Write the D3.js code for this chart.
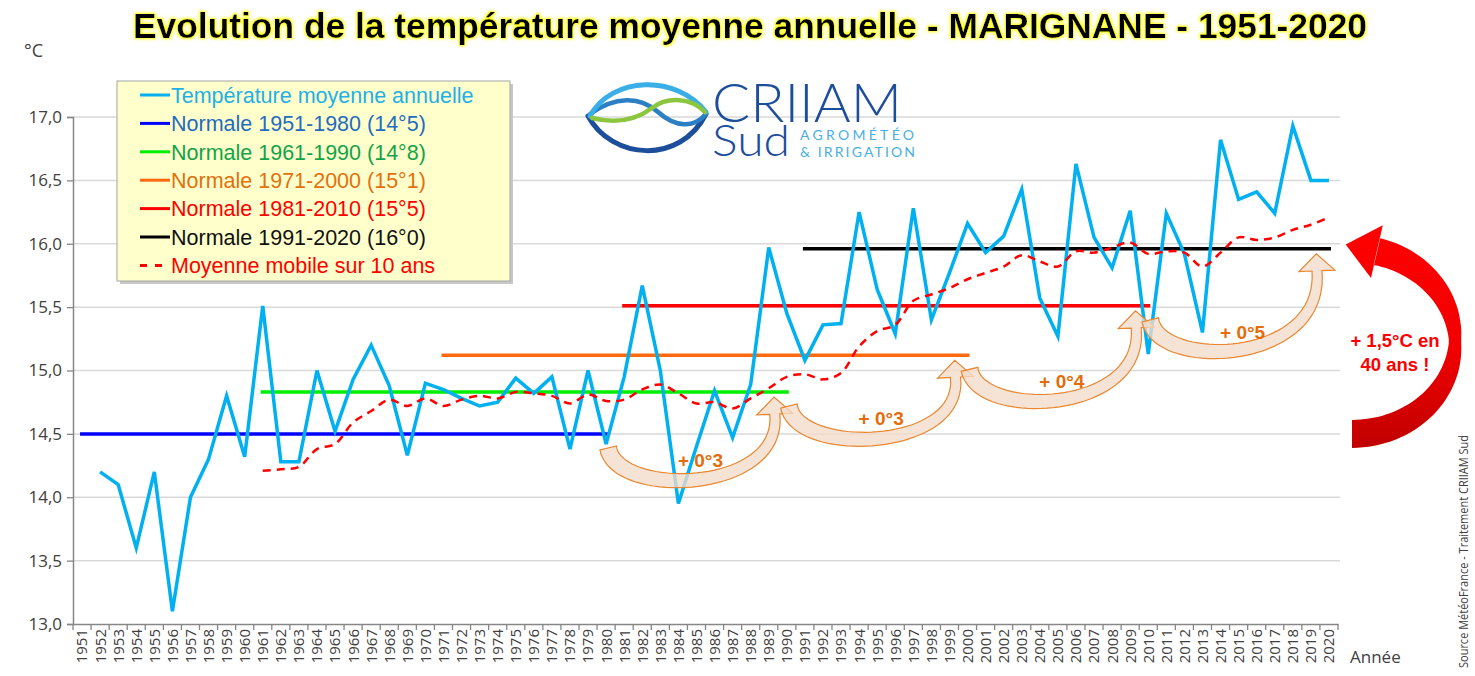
<!DOCTYPE html>
<html lang="fr">
<head>
<meta charset="UTF-8">
<title>Evolution de la température moyenne annuelle - MARIGNANE</title>
<script src="https://d3js.org/d3.v7.min.js"></script>
<style>
    body { margin: 0; background: #ffffff; }
    svg { display: block; }
    text { font-family: "Liberation Sans", Arial, sans-serif; }
</style>
</head>
<body>
<div id="chart"></div>
<script>

    // ---- data ----
    var years = d3.range(1951, 2021);

    // annual mean temperature (1951 missing)
    var temps = [null, 14.20, 14.10, 13.60, 14.20, 13.10, 14.00, 14.30, 14.80, 14.32,
        15.51, 14.28, 14.28, 15.00, 14.52, 14.93, 15.20, 14.88, 14.33, 14.90,
        14.85, 14.78, 14.72, 14.75, 14.94, 14.82, 14.95, 14.38, 15.00, 14.42,
        14.95, 15.67, 15.00, 13.95, 14.40, 14.84, 14.47, 14.89, 15.97, 15.45,
        15.08, 15.36, 15.37, 16.25, 15.64, 15.29, 16.28, 15.40, 15.77, 16.16,
        15.93, 16.06, 16.43, 15.57, 15.27, 16.63, 16.05, 15.81, 16.26, 15.13,
        16.24, 15.92, 15.30, 16.82, 16.35, 16.41, 16.24, 16.93, 16.50, 16.50];

    // 10 year moving average (starts 1961)
    var movingAvg = [null, null, null, null, null, null, null, null, null, null,
        14.21, 14.22, 14.24, 14.38, 14.42, 14.59, 14.68, 14.77, 14.72, 14.78,
        14.72, 14.77, 14.80, 14.78, 14.83, 14.82, 14.80, 14.74, 14.81, 14.76,
        14.77, 14.85, 14.89, 14.82, 14.74, 14.75, 14.70, 14.78, 14.86, 14.95,
        14.97, 14.93, 14.98, 15.19, 15.31, 15.36, 15.55, 15.60, 15.65, 15.72,
        15.77, 15.82, 15.91, 15.86, 15.82, 15.94, 15.93, 15.97, 16.01, 15.92,
        15.94, 15.93, 15.82, 15.93, 16.05, 16.03, 16.05, 16.11, 16.15, 16.21];

    // climate normals
    var normalNames = ["Normale 1951-1980 (14°5)", "Normale 1961-1990 (14°8)", "Normale 1971-2000 (15°1)",
        "Normale 1981-2010 (15°5)", "Normale 1991-2020 (16°0)"];
    var normalStart = [1951, 1961, 1971, 1981, 1991];
    var normalEnd = [1980, 1990, 2000, 2010, 2020];
    var normalValues = [14.50, 14.83, 15.12, 15.51, 15.96];

    // increase between consecutive normals
    var gapLabels = ["+ 0°3", "+ 0°3", "+ 0°4", "+ 0°5"];

    var yTicks = [13.0, 13.5, 14.0, 14.5, 15.0, 15.5, 16.0, 16.5, 17.0];

    // ---- styles ----
    var normalColors = ["#0000ff", "#00ee00", "#ff6a10", "#ff0000", "#000000"];
    var normalTextColors = ["#1f6cc0", "#13a34a", "#e4700e", "#ff0000", "#111111"];
    var tempColor = "#00b0f0";
    var arrowStroke = "#e9862f";
    var labelOrange = "#e46c0a";

    var width = 1475, height = 676;
    var plot = { left: 73, right: 1338, top: 117, bottom: 624 };

    var svg = d3.select("#chart")
        .append("svg")
        .attr("width", width)
        .attr("height", height);

    var defs = svg.append("defs");

    // yellow glow behind the title
    var glow = defs.append("filter").attr("id", "glow")
        .attr("x", "-5%").attr("y", "-40%").attr("width", "110%").attr("height", "180%");
    glow.append("feMorphology").attr("in", "SourceAlpha").attr("operator", "dilate").attr("radius", 1).attr("result", "d");
    glow.append("feGaussianBlur").attr("in", "d").attr("stdDeviation", 1.8).attr("result", "b");
    glow.append("feFlood").attr("flood-color", "#ffff00");
    glow.append("feComposite").attr("in2", "b").attr("operator", "in").attr("result", "g");
    var merge = glow.append("feMerge");
    merge.append("feMergeNode").attr("in", "g");
    merge.append("feMergeNode").attr("in", "SourceGraphic");

    // red gradient of the big arrow
    var grad = defs.append("linearGradient").attr("id", "redGrad")
        .attr("x1", 0).attr("y1", 0).attr("x2", 0).attr("y2", 1);
    grad.append("stop").attr("offset", "0%").attr("stop-color", "#ff0000");
    grad.append("stop").attr("offset", "55%").attr("stop-color", "#f20000");
    grad.append("stop").attr("offset", "100%").attr("stop-color", "#c00000");

    // ---- scales ----
    var x = d3.scaleBand()
        .domain(years)
        .range([plot.left, plot.right])
        .padding(0);
    function xc(yr) { return x(yr) + x.bandwidth() / 2; }

    var y = d3.scaleLinear()
        .domain([13, 17])
        .range([plot.bottom, plot.top]);

    var fmt = function (d) { return d3.format(".1f")(d).replace(".", ","); };

    // ---- gridlines ----
    svg.append("g")
        .selectAll("line")
        .data(yTicks.slice(1))
        .enter()
        .append("line")
        .attr("x1", plot.left).attr("x2", plot.right + 2)
        .attr("y1", function (d) { return y(d); })
        .attr("y2", function (d) { return y(d); })
        .attr("stroke", "#d9d9d9")
        .attr("stroke-width", 1.5);

    // ---- y axis ----
    var yAxis = svg.append("g")
        .attr("transform", "translate(" + plot.left + ",0)")
        .call(d3.axisLeft(y).tickValues(yTicks).tickSize(6).tickPadding(5).tickFormat(fmt));
    yAxis.select(".domain").attr("stroke", "#868686").attr("stroke-width", 1.5);
    yAxis.selectAll(".tick line").attr("stroke", "#868686").attr("stroke-width", 1.3);
    yAxis.selectAll("text")
        .style("font-family", "'Open Sans', sans-serif")
        .style("font-size", "17px")
        .attr("fill", "#404040");

    // ---- x axis ----
    var xAxis = svg.append("g")
        .attr("transform", "translate(0," + plot.bottom + ")")
        .call(d3.axisBottom(x).tickSize(0).tickPadding(0));
    xAxis.select(".domain").attr("stroke", "#868686").attr("stroke-width", 1.5);
    xAxis.selectAll("text")
        .attr("transform", "rotate(-90)")
        .attr("x", -5).attr("y", 0).attr("dy", ".36em")
        .style("text-anchor", "end")
        .style("font-family", "'Open Sans', sans-serif")
        .style("font-size", "15px")
        .attr("fill", "#404040");

    // ticks between categories
    svg.append("g")
        .selectAll("line")
        .data(years.concat([null]))
        .enter()
        .append("line")
        .attr("x1", function (d) { return d === null ? plot.right : x(d); })
        .attr("x2", function (d) { return d === null ? plot.right : x(d); })
        .attr("y1", plot.bottom)
        .attr("y2", plot.bottom + 6)
        .attr("stroke", "#868686")
        .attr("stroke-width", 1.3);

    svg.append("text").attr("x", 1350).attr("y", 663).text("Année")
        .style("font-family", "'Open Sans', sans-serif").style("font-size", "17px").attr("fill", "#404040");
    svg.append("text").attr("x", 24).attr("y", 57).text("°C")
        .style("font-family", "'Open Sans', sans-serif").style("font-size", "18px").attr("fill", "#404040");

    // ---- normals ----
    svg.append("g")
        .selectAll("line")
        .data(normalValues)
        .enter()
        .append("line")
        .attr("x1", function (d, i) { return xc(normalStart[i]) - 2; })
        .attr("x2", function (d, i) { return xc(normalEnd[i]) + 2; })
        .attr("y1", function (d) { return y(d); })
        .attr("y2", function (d) { return y(d); })
        .attr("stroke", function (d, i) { return normalColors[i]; })
        .attr("stroke-width", 3.5);

    // ---- annual temperature ----
    var line = d3.line()
        .defined(function (d) { return d !== null; })
        .x(function (d, i) { return xc(years[i]); })
        .y(function (d) { return y(d); });

    svg.append("path")
        .datum(temps)
        .attr("d", line)
        .attr("fill", "none")
        .attr("stroke", tempColor)
        .attr("stroke-width", 3.5)
        .attr("stroke-linejoin", "miter");

    // ---- moving average (smoothed, dashed) ----
    var smooth = d3.line()
        .defined(function (d) { return d !== null; })
        .curve(d3.curveCatmullRom.alpha(0.5))
        .x(function (d, i) { return xc(years[i]); })
        .y(function (d) { return y(d); });

    svg.append("path")
        .datum(movingAvg)
        .attr("d", smooth)
        .attr("fill", "none")
        .attr("stroke", "#ff0000")
        .attr("stroke-width", 2.5)
        .attr("stroke-dasharray", "8,6");

    // ---- curved arrows between normals ----
    function bez(p0, p1, p2, p3, t) {
        var u = 1 - t;
        return [u * u * u * p0[0] + 3 * u * u * t * p1[0] + 3 * u * t * t * p2[0] + t * t * t * p3[0],
            u * u * u * p0[1] + 3 * u * u * t * p1[1] + 3 * u * t * t * p2[1] + t * t * t * p3[1]];
    }

    function curvedArrow(p0, p1, p2, p3, w0, w1, headHalf, headLen) {
        var n = 40, left = [], right = [], pts = [];
        for (var k = 0; k <= n; k++) pts.push(bez(p0, p1, p2, p3, k / n));
        for (var k = 0; k <= n; k++) {
            var a = pts[Math.max(k - 1, 0)], b = pts[Math.min(k + 1, n)];
            var dx = b[0] - a[0], dy = b[1] - a[1], len = Math.sqrt(dx * dx + dy * dy);
            var nx = -dy / len, ny = dx / len;
            var w = (w0 + (w1 - w0) * k / n) / 2;
            left.push([pts[k][0] + nx * w, pts[k][1] + ny * w]);
            right.push([pts[k][0] - nx * w, pts[k][1] - ny * w]);
        }
        var e = pts[n], f = pts[n - 1];
        var tx = e[0] - f[0], ty = e[1] - f[1], tl = Math.sqrt(tx * tx + ty * ty);
        tx /= tl; ty /= tl;
        var hx = -ty, hy = tx;
        var head = [
            [e[0] + hx * headHalf, e[1] + hy * headHalf],
            [e[0] + tx * headLen, e[1] + ty * headLen],
            [e[0] - hx * headHalf, e[1] - hy * headHalf]
        ];
        var all = left.concat(head).concat(right.reverse());
        return "M" + all.map(function (p) { return p[0].toFixed(1) + "," + p[1].toFixed(1); }).join("L") + "Z";
    }

    var arrows = svg.append("g");
    for (var i = 0; i < normalValues.length - 1; i++) {
        var xe0 = xc(normalEnd[i]), ye0 = y(normalValues[i]);
        var xe1 = xc(normalEnd[i + 1]), ye1 = y(normalValues[i + 1]);
        var tail = [xe0 + 2, ye0 + 14];
        var hb = [xe1 - 12, ye1 + 22];
        var bottom = ye0 + 64;
        var d = curvedArrow(tail, [xe0 + 10, bottom], [hb[0] + 8, bottom - 4], hb, 17, 10, 18, 17);
        arrows.append("path")
            .attr("d", d)
            .attr("fill", "#f2dccb")
            .attr("fill-opacity", 0.78)
            .attr("stroke", arrowStroke)
            .attr("stroke-width", 1.2);
        arrows.append("text")
            .attr("x", (xe0 + xe1) / 2 + 4)
            .attr("y", ye0 + 26)
            .attr("dy", ".35em")
            .attr("text-anchor", "middle")
            .attr("font-weight", "bold")
            .style("font-size", "19px")
            .attr("fill", labelOrange)
            .text(gapLabels[i]);
    }

    // ---- big red arrow: first normal to last normal ----
    (function () {
        var cx0 = plot.right + 14, cy0 = (y(normalValues[0]) + y(normalValues[4])) / 2;
        var rx = 103, ry = (y(normalValues[0]) - y(normalValues[4])) / 2;
        var outer = [], inner = [];
        var a0 = Math.PI / 2, a1 = -76 * Math.PI / 180;
        for (var k = 0; k <= 60; k++) {
            var t = a0 + (a1 - a0) * k / 60;
            // band is thick at both ends and thin at the far right
            var hw = 6 + 8 * Math.abs(Math.sin(t));
            outer.push([cx0 + (rx + hw) * Math.cos(t), cy0 + (ry + hw) * Math.sin(t)]);
            inner.push([cx0 + (rx - hw) * Math.cos(t), cy0 + (ry - hw) * Math.sin(t)]);
        }
        var c = [cx0 + rx * Math.cos(a1), cy0 + ry * Math.sin(a1)];
        var tx = rx * Math.sin(a1), ty = -ry * Math.cos(a1), tl = Math.sqrt(tx * tx + ty * ty);
        tx /= tl; ty /= tl;
        var hx = -ty, hy = tx, hh = 27, hl = 32;
        var head = [[c[0] - hx * hh, c[1] - hy * hh], [c[0] + tx * hl, c[1] + ty * hl], [c[0] + hx * hh, c[1] + hy * hh]];
        var all = outer.concat(head).concat(inner.reverse());
        svg.append("path")
            .attr("d", "M" + all.map(function (p) { return p[0].toFixed(1) + "," + p[1].toFixed(1); }).join("L") + "Z")
            .attr("fill", "url(#redGrad)");

        var lab = svg.append("text")
            .attr("text-anchor", "middle")
            .attr("font-weight", "bold")
            .style("font-size", "18.5px")
            .attr("fill", "#ff0000");
        lab.append("tspan").attr("x", 1395).attr("y", 347).text("+ 1,5°C en");
        lab.append("tspan").attr("x", 1395).attr("y", 371).text("40 ans !");
    })();

    // ---- legend ----
    var legend = svg.append("g");
    legend.append("rect").attr("x", 120).attr("y", 84).attr("width", 393).attr("height", 200).attr("fill", "#c8c8c8");
    legend.append("rect").attr("x", 117).attr("y", 81).attr("width", 393).attr("height", 200)
        .attr("fill", "#ffffcc").attr("stroke", "#a6a6a6").attr("stroke-width", 1);

    var legNames = ["Température moyenne annuelle"].concat(normalNames).concat(["Moyenne mobile sur 10 ans"]);
    var legLine = [tempColor].concat(normalColors).concat(["#ff0000"]);
    var legText = ["#1fb0e8"].concat(normalTextColors).concat(["#ff0000"]);

    legend.selectAll("line.leg")
        .data(legNames)
        .enter()
        .append("line")
        .attr("class", "leg")
        .attr("x1", 140).attr("x2", 170)
        .attr("y1", function (d, i) { return 95 + i * 28.4; })
        .attr("y2", function (d, i) { return 95 + i * 28.4; })
        .attr("stroke", function (d, i) { return legLine[i]; })
        .attr("stroke-width", 3)
        .attr("stroke-dasharray", function (d, i) { return i === legNames.length - 1 ? "7,8" : null; });

    legend.selectAll("text.leg")
        .data(legNames)
        .enter()
        .append("text")
        .attr("class", "leg")
        .attr("x", 171)
        .attr("y", function (d, i) { return 95 + i * 28.4; })
        .attr("dy", ".36em")
        .style("font-size", "21.5px")
        .attr("fill", function (d, i) { return legText[i]; })
        .text(function (d) { return d; });

    // ---- logo ----
    var logo = svg.append("g").attr("fill", "none").attr("stroke-linecap", "round");
    logo.append("path").attr("d", "M588,116 C612,160 680,165 706,114").attr("stroke", "#1d4e9b").attr("stroke-width", 5);
    logo.append("path").attr("d", "M590,114 C615,96 640,96 658,112 C676,128 694,128 706,114").attr("stroke", "#2b7fc4").attr("stroke-width", 4.5);
    logo.append("path").attr("d", "M590,116 C612,76 676,74 706,112").attr("stroke", "#3aaee6").attr("stroke-width", 5);
    logo.append("path").attr("d", "M592,118 C616,124 636,120 652,108 C668,96 692,98 705,112").attr("stroke", "#8cc63f").attr("stroke-width", 4.5);

    logo.append("text").attr("x", 712).attr("y", 122).attr("textLength", 190).attr("lengthAdjust", "spacingAndGlyphs")
        .attr("fill", "#1d4e9b").attr("stroke", "none").style("font-family", "Lato, sans-serif").style("font-size", "54px")
        .style("font-weight", 300).text("CRIIAM");
    logo.append("text").attr("x", 712).attr("y", 156).attr("textLength", 78).attr("lengthAdjust", "spacingAndGlyphs")
        .attr("fill", "#1d4e9b").attr("stroke", "none").style("font-family", "Lato, sans-serif").style("font-size", "44px")
        .style("font-weight", 300).text("Sud");
    logo.append("text").attr("x", 800).attr("y", 140).attr("textLength", 114).attr("lengthAdjust", "spacing")
        .attr("fill", "#4aaee2").attr("stroke", "none").style("font-family", "Lato, sans-serif").style("font-size", "14px")
        .text("AGROMÉTÉO");
    logo.append("text").attr("x", 800).attr("y", 157).attr("textLength", 115).attr("lengthAdjust", "spacing")
        .attr("fill", "#4aaee2").attr("stroke", "none").style("font-family", "Lato, sans-serif").style("font-size", "14px")
        .text("& IRRIGATION");

    // ---- title ----
    svg.append("text")
        .attr("x", 750).attr("y", 38)
        .attr("text-anchor", "middle")
        .attr("textLength", 1234)
        .attr("lengthAdjust", "spacingAndGlyphs")
        .attr("filter", "url(#glow)")
        .style("font-family", "'Liberation Sans Narrow', 'Liberation Sans', sans-serif")
        .style("font-size", "35px")
        .style("font-weight", "bold")
        .attr("fill", "#000000")
        .text("Evolution de la température moyenne annuelle - MARIGNANE - 1951-2020");

    // ---- source ----
    svg.append("text")
        .attr("transform", "translate(1468,668) rotate(-90)")
        .attr("textLength", 233)
        .attr("lengthAdjust", "spacingAndGlyphs")
        .style("font-family", "'Open Sans', sans-serif")
        .style("font-size", "12px")
        .attr("fill", "#404040")
        .text("Source MétéoFrance - Traitement CRIIAM Sud");

</script>
</body>
</html>
